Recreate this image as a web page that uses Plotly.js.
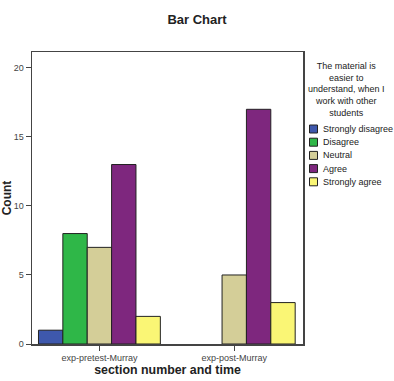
<!DOCTYPE html>
<html><head><meta charset="utf-8">
<script src="https://cdn.plot.ly/plotly-3.0.1.min.js"></script>
<style>body{margin:0;background:#fff}#chart{width:394px;height:381px}</style>
</head><body><div id="chart"></div>
<script>
const categories = ["exp-pretest-Murray", "exp-post-Murray"];
const seriesNames = ["Strongly disagree", "Disagree", "Neutral", "Agree", "Strongly agree"];
const stronglyDisagree = [1, null];
const disagree = [8, null];
const neutral = [7, 5];
const agree = [13, 17];
const stronglyAgree = [2, 3];
const yTicks = [0, 5, 10, 15, 20];
const legendTitle = "The material is<br>easier to<br>understand, when I<br>work with other<br>students";
const colors = ["#3E58AC", "#2FB748", "#D4CE98", "#7E277E", "#FAF675"];
const values = [stronglyDisagree, disagree, neutral, agree, stronglyAgree];

const W = 394, H = 381, L = 32, R = 91, T = 52, B = 37;
const pw = W - L - R, ph = H - T - B;
const px = x => (x - L) / pw;
const py = y => (H - B - y) / ph;

const traces = seriesNames.map((n, i) => ({
  type: "bar", name: n, x: categories, y: values[i],
  marker: {color: colors[i], line: {color: "#222", width: 1}},
  hoverinfo: "none", showlegend: false
}));

// custom legend (compact, like the original)
const shapes = [], annotations = [];
annotations.push({
  xref: "paper", yref: "paper", x: px(346), y: py(59), xanchor: "center", yanchor: "top",
  text: legendTitle, showarrow: false, align: "center",
  font: {size: 9, color: "#222"}
});
seriesNames.forEach((n, i) => {
  const cy = 129 + i * 13.2;
  shapes.push({type: "rect", xref: "paper", yref: "paper",
    x0: px(309.5), x1: px(317.5), y0: py(cy + 4), y1: py(cy - 4),
    fillcolor: colors[i], line: {color: "#222", width: 1}});
  annotations.push({xref: "paper", yref: "paper", x: px(321), y: py(cy),
    xanchor: "left", yanchor: "middle", text: n, showarrow: false,
    font: {size: 9, color: "#222"}});
});

const layout = {
  width: W, height: H,
  margin: {l: L, r: R, t: T, b: B, autoexpand: false},
  paper_bgcolor: "#fff", plot_bgcolor: "#fff",
  font: {family: "Liberation Sans, Arial, sans-serif", color: "#222"},
  title: {text: "<b>Bar Chart</b>", x: 0.5, xref: "container", xanchor: "center", y: 0.962, yref: "container", yanchor: "top", font: {size: 13, color: "#222"}},
  barmode: "group", bargap: 0.096, bargroupgap: 0,
  xaxis: {
    range: [-0.5, 1.51], showline: true, mirror: true, linecolor: "#444", linewidth: 1.5,
    ticks: "outside", ticklen: 5, tickcolor: "#444", tickfont: {size: 9, color: "#444"},
    title: {text: "<b>section number and time</b>", font: {size: 12.4, color: "#222"}, standoff: 2},
    showgrid: false, fixedrange: true
  },
  yaxis: {
    range: [0, 21.15], tickvals: yTicks, showline: true, mirror: true, linecolor: "#444", linewidth: 1.5,
    ticks: "outside", ticklen: 5, tickcolor: "#444", tickfont: {size: 9, color: "#444"},
    title: {text: "<b>Count</b>", font: {size: 12, color: "#222"}, standoff: 6},
    showgrid: false, zeroline: false, fixedrange: true
  },
  shapes: shapes, annotations: annotations,
  showlegend: false
};
Plotly.newPlot("chart", traces, layout, {displayModeBar: false, staticPlot: true});
</script></body></html>
